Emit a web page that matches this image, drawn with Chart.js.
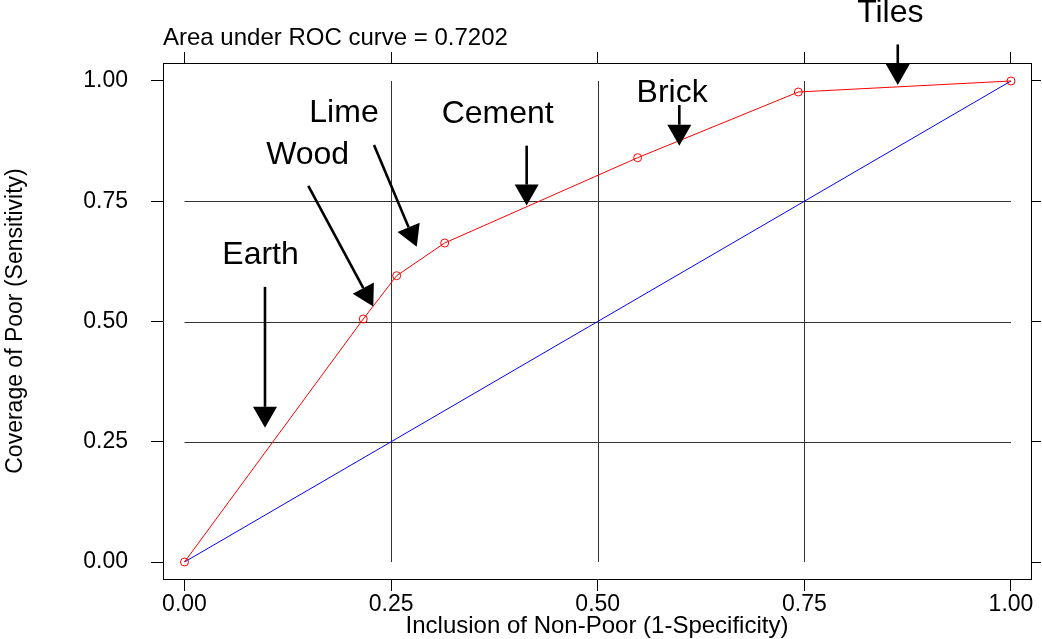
<!DOCTYPE html>
<html>
<head>
<meta charset="utf-8">
<script src="https://cdn.jsdelivr.net/npm/chart.js@4"></script>
<style>
  body { margin: 0; background: #fff; }
  #wrap { width: 1042px; height: 639px; }
</style>
</head>
<body>
<div id="wrap"><canvas id="rocChart" width="1042" height="639"></canvas></div>
<script>
// ROC curve points (1-specificity, sensitivity)
const ROC_X = [0, 0.2163, 0.2567, 0.3148, 0.5483, 0.7427, 1];
const ROC_Y = [0, 0.5052, 0.5952, 0.6632, 0.8405, 0.9771, 1];

// chance diagonal
const DIAG_X = [0, 1];
const DIAG_Y = [0, 1];

const TICKS = [0, 0.25, 0.5, 0.75, 1];
const GRID = [0.25, 0.5, 0.75];

const AUC_TEXT = "Area under ROC curve = 0.7202";

// arrow annotations, all in data units: label spot, arrow tail, arrow tip
const ARROW_LABELS = ["Earth", "Wood", "Lime", "Cement", "Brick", "Tiles"];
const LABEL_X = [0.092, 0.149, 0.193, 0.379, 0.590, 0.854];
const LABEL_Y = [0.638, 0.846, 0.933, 0.930, 0.9755, 1.142];
const TAIL_X = [0.0974, 0.1498, 0.2293, 0.414, 0.5987, 0.863];
const TAIL_Y = [0.572, 0.782, 0.867, 0.8655, 0.950, 1.076];
const TIP_X = [0.0974, 0.2284, 0.281, 0.414, 0.5987, 0.863];
const TIP_Y = [0.279, 0.531, 0.6555, 0.741, 0.8655, 0.9917];

const FONT = "'Liberation Sans', Arial, sans-serif";
Chart.defaults.font.family = FONT;
Chart.defaults.color = "#000";

const toPts = (xs, ys) => xs.map((x, i) => ({ x, y: ys[i] }));
const fixTicks = s => { s.ticks = TICKS.map(v => ({ value: v })); };

// grid drawn only inside [0,1] x [0,1], like the original
const innerGrid = {
  id: "innerGrid",
  beforeDatasetsDraw(chart) {
    const { ctx, scales: { x, y } } = chart;
    ctx.save();
    ctx.strokeStyle = "#333";
    ctx.lineWidth = 1;
    ctx.beginPath();
    GRID.forEach(v => {
      const px = Math.round(x.getPixelForValue(v)) + 0.5;
      ctx.moveTo(px, y.getPixelForValue(0));
      ctx.lineTo(px, y.getPixelForValue(1));
      const py = Math.round(y.getPixelForValue(v)) + 0.5;
      ctx.moveTo(x.getPixelForValue(0), py);
      ctx.lineTo(x.getPixelForValue(1), py);
    });
    ctx.stroke();
    ctx.restore();
  }
};

const arrows = {
  id: "arrows",
  afterDraw(chart) {
    const { ctx, scales: { x, y } } = chart;
    ctx.save();
    ctx.fillStyle = "#000";
    ctx.strokeStyle = "#000";
    ARROW_LABELS.forEach((txt, i) => {
      const x0 = x.getPixelForValue(TAIL_X[i]), y0 = y.getPixelForValue(TAIL_Y[i]);
      const x1 = x.getPixelForValue(TIP_X[i]), y1 = y.getPixelForValue(TIP_Y[i]);
      const ang = Math.atan2(y1 - y0, x1 - x0);
      const headLen = 21, headW = 12;
      const bx = x1 - headLen * Math.cos(ang), by = y1 - headLen * Math.sin(ang);
      ctx.lineWidth = 2.6;
      ctx.beginPath();
      ctx.moveTo(x0, y0);
      ctx.lineTo(bx, by);
      ctx.stroke();
      ctx.beginPath();
      ctx.moveTo(x1, y1);
      ctx.lineTo(bx + headW * Math.sin(ang), by - headW * Math.cos(ang));
      ctx.lineTo(bx - headW * Math.sin(ang), by + headW * Math.cos(ang));
      ctx.closePath();
      ctx.fill();

      ctx.font = "32px " + FONT;
      ctx.textAlign = "center";
      ctx.textBaseline = "middle";
      ctx.fillText(txt, x.getPixelForValue(LABEL_X[i]), y.getPixelForValue(LABEL_Y[i]));
    });
    ctx.restore();
  }
};

const tickFont = { size: 23 };
const edgeGrid = { drawOnChartArea: false, color: "#000", tickLength: 12 };

new Chart(document.getElementById("rocChart"), {
  type: "scatter",
  data: {
    datasets: [
      {
        data: toPts(ROC_X, ROC_Y),
        showLine: true,
        borderColor: "#ff0000",
        borderWidth: 1,
        pointRadius: 4,
        pointBorderWidth: 1,
        pointBorderColor: "#ff0000",
        pointBackgroundColor: "rgba(0,0,0,0)"
      },
      {
        data: toPts(DIAG_X, DIAG_Y),
        showLine: true,
        borderColor: "#0000ff",
        borderWidth: 1,
        pointRadius: 0
      }
    ]
  },
  options: {
    responsive: false,
    animation: false,
    layout: { padding: 0 },
    plugins: { legend: { display: false }, tooltip: { enabled: false } },
    scales: {
      x: {
        type: "linear", position: "bottom", min: -0.026, max: 1.0242,
        afterBuildTicks: fixTicks,
        afterFit: s => { s.height = 60; },
        grid: edgeGrid,
        border: { color: "#000", width: 1 },
        ticks: { font: tickFont, padding: 0, callback: v => v.toFixed(2), maxRotation: 0 },
        title: { display: true, text: "Inclusion of Non-Poor (1-Specificity)", font: { size: 24, lineHeight: 1 }, padding: { top: 0, bottom: 1 } }
      },
      x2: {
        type: "linear", position: "top", min: -0.026, max: 1.0242,
        afterBuildTicks: fixTicks,
        afterFit: s => { s.height = 63; },
        grid: { drawOnChartArea: false, color: "#000", tickLength: 11 },
        border: { color: "#000", width: 1 },
        ticks: { display: false },
        title: { display: true, text: AUC_TEXT, align: "start", font: { size: 24, lineHeight: 1 }, padding: { top: 26, bottom: 0 } }
      },
      y: {
        type: "linear", position: "left", min: -0.0353, max: 1.0374,
        afterBuildTicks: fixTicks,
        afterFit: s => { s.width = 163; },
        grid: edgeGrid,
        border: { color: "#000", width: 1 },
        ticks: { font: tickFont, padding: 23, callback: v => v.toFixed(2) },
        title: { display: true, text: "Coverage of Poor (Sensitivity)", font: { size: 23, lineHeight: 1 }, padding: { top: 4, bottom: 0 } }
      },
      y2: {
        type: "linear", position: "right", min: -0.0353, max: 1.0374,
        afterBuildTicks: fixTicks,
        afterFit: s => { s.width = 11; },
        grid: { drawOnChartArea: false, color: "#000", tickLength: 10 },
        border: { color: "#000", width: 1 },
        ticks: { display: false }
      }
    }
  },
  plugins: [innerGrid, arrows]
});
</script>
</body>
</html>
